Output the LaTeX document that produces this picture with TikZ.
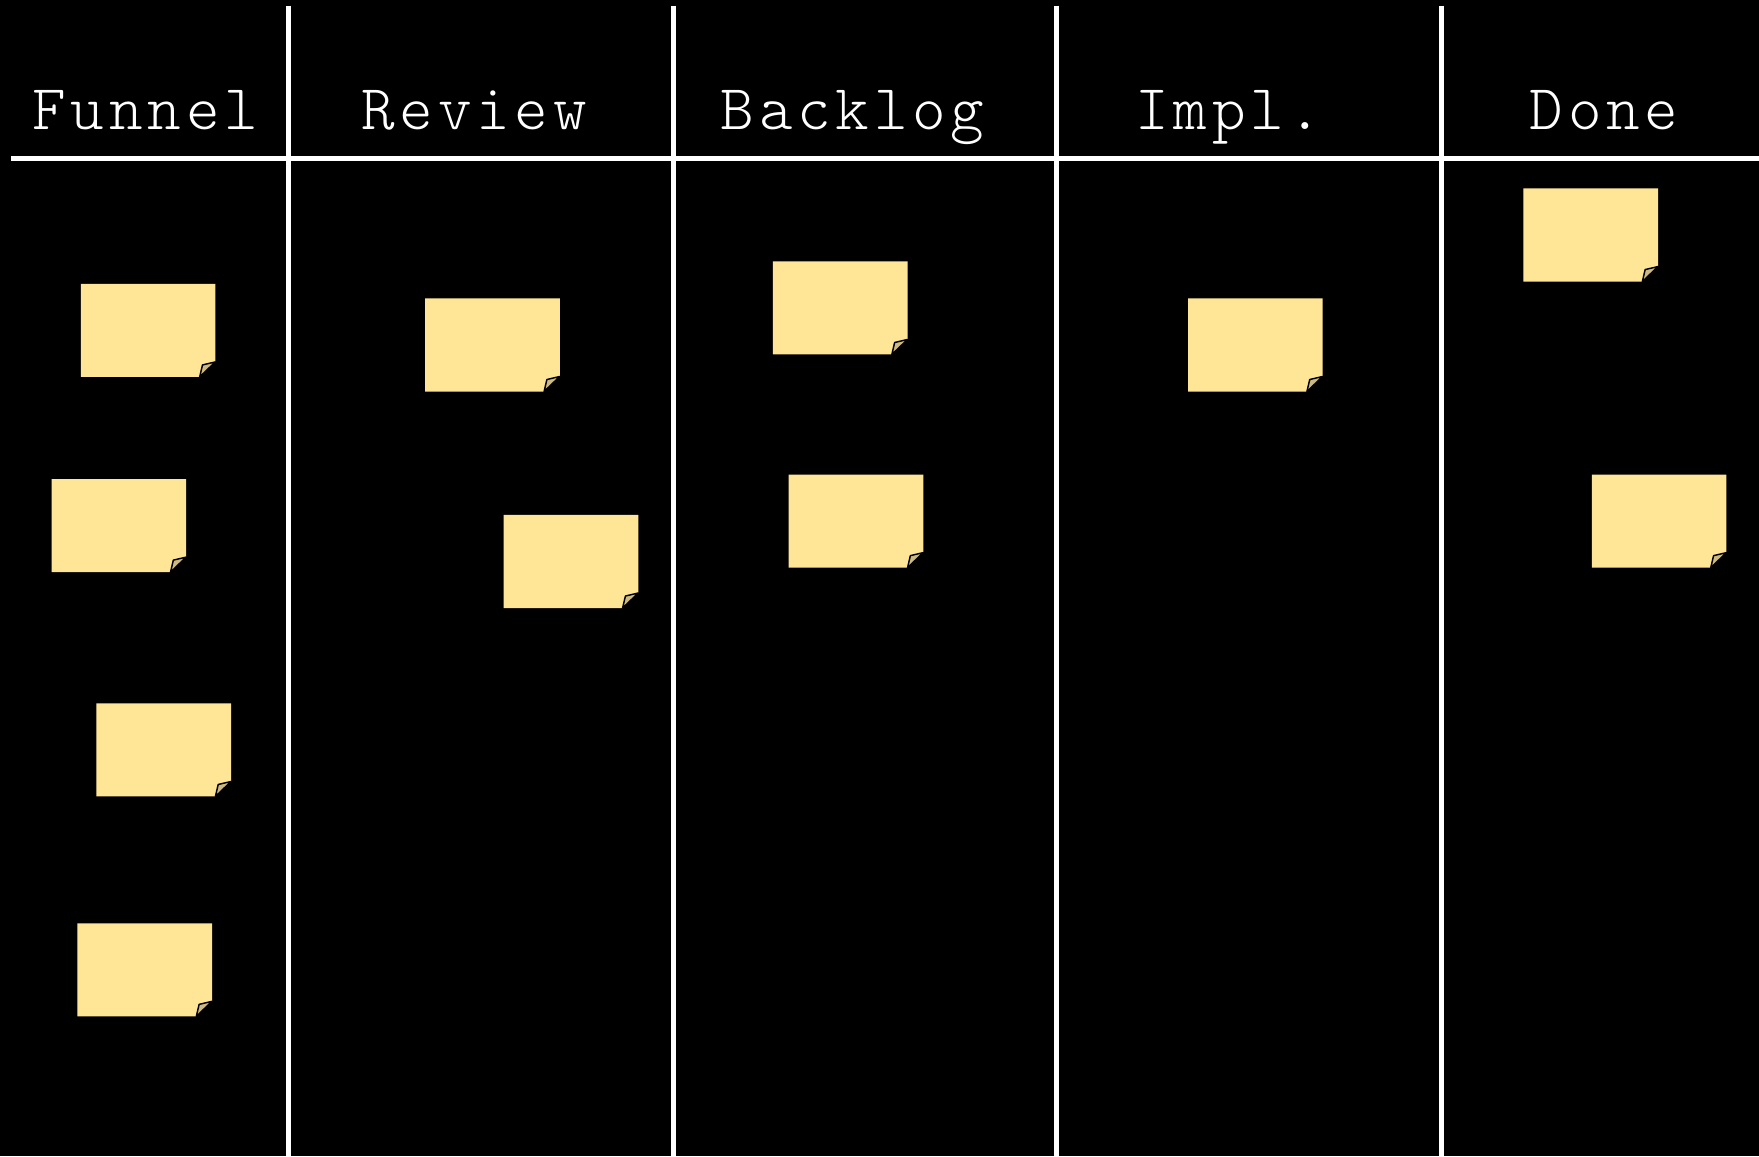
\documentclass[tikz,border=0pt]{standalone}
\usepackage{fontspec}
\newfontfamily\boardfont[LetterSpace=7.5]{Latin Modern Mono Light}
\definecolor{notefill}{RGB}{255,229,150}
\definecolor{flapfill}{RGB}{205,185,130}
\begin{document}
\begin{tikzpicture}[x=1pt,y=-1pt,
  divider/.style={white,line width=4.5pt},
  colhead/.style={text=white,font=\boardfont\fontsize{57}{60}\selectfont,inner sep=0pt,anchor=base},
  stickynote/.pic={
    \fill[notefill] (0,0) -- (120,0) -- (120,69.6) -- (106,83) -- (0,83) -- cycle;
    \filldraw[fill=flapfill,draw=black,line width=1.3pt,line join=round] (106,83) -- (108.5,72.3) -- (120,69.6) -- cycle;
  }]
\fill[black] (0,0) rectangle (1568,1030.5);
\useasboundingbox (0,0) rectangle (1568,1030.5);
% grid
\coordinate (h0) at (10,141);
\coordinate (h1) at (1568,141);
\draw[divider] (h0) -- (h1);
\foreach \x/\n in {257/a,600/b,942/c,1285/d}{
  \coordinate (top\n) at (\x,5);
  \coordinate (bot\n) at (\x,1030.5);
  \draw[divider] (top\n) -- (bot\n);
}
% headers
\node[colhead] (funnel) at (129.5,115) {Funnel};
\node[colhead] (review) at (422.5,115) {Review};
\node[colhead] (backlog) at (760,115) {Backlog};
\node[colhead] (impl) at (1095.5,115) {Impl.};
\node[colhead] (done) at (1430,115) {Done};
% notes
\pic (n1) at (72,253) {stickynote};
\pic (n2) at (46,427) {stickynote};
\pic (n3) at (86,627) {stickynote};
\pic (n4) at (69,823) {stickynote};
\pic (n5) at (379,266) {stickynote};
\pic (n6) at (449,459) {stickynote};
\pic (n7) at (689,233) {stickynote};
\pic (n8) at (703,423) {stickynote};
\pic (n9) at (1059,266) {stickynote};
\pic (n10) at (1358,168) {stickynote};
\pic (n11) at (1419,423) {stickynote};
\end{tikzpicture}
\end{document}
